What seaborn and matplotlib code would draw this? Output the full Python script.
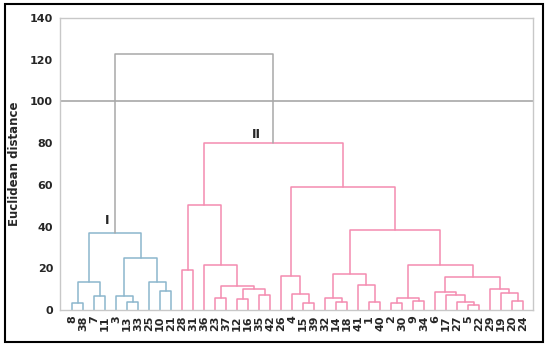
import numpy as np
import pandas as pd
import matplotlib
matplotlib.use('Agg')
import matplotlib.pyplot as plt
import seaborn as sns
from matplotlib.patches import Rectangle

# Leaves in the order they appear along the x axis
leaves = ['8', '38', '7', '11', '3', '13', '33', '25', '10', '21',
          '28', '31', '36', '23', '37', '12', '16', '35', '42',
          '26', '4', '15', '39', '32', '14', '18', '41', '1', '40',
          '2', '30', '9', '34', '6', '17', '27', '5', '22', '29',
          '19', '20', '24']

# Merge table: node nK is the K-th merge (left, right, height)
merge_left = ['8', '7', 'n0', '13', '3', '10', '25', 'n4', 'n2',
              '28', '23', '12', '35', 'n11', 'n10', '36', 'n9',
              '15', '4', '26', '14', '32', '1', '41', 'n21',
              '2', '9', 'n25', '5', '27', '17', '6', '20', '19', '29',
              'n31', 'n27', 'n24', 'n19', 'n16', 'n8']
merge_right = ['38', '11', 'n1', '33', 'n3', '21', 'n5', 'n6', 'n7',
               '31', '37', '16', '42', 'n12', 'n13', 'n14', 'n15',
               '39', 'n17', 'n18', '18', 'n20', '40', 'n22', 'n23',
               '30', '34', 'n26', '22', 'n28', 'n29', 'n30', '24', 'n32', 'n33',
               'n34', 'n35', 'n36', 'n37', 'n38', 'n39']
merge_height = [3.5, 6.5, 13.5, 4, 6.5, 9, 13.5, 25, 37,
                19, 6, 5.5, 7, 10, 11.5, 21.5, 50.5,
                3.5, 7.5, 16.5, 4, 6, 4, 12, 17.5,
                3.5, 4.5, 6, 2.5, 4, 7, 8.5, 4.5, 8, 10,
                16, 21.5, 38.5, 59, 80, 122.5]
merge_group = ['I'] * 9 + ['II'] * 31 + ['top']

# dendrogram coordinates
pos = {lab: (i, 0.0) for i, lab in enumerate(leaves)}
rows = []
for k, (a, b, h, g) in enumerate(zip(merge_left, merge_right, merge_height, merge_group)):
    xa, ya = pos[a]
    xb, yb = pos[b]
    for x, y in [(xa, ya), (xa, h), (xb, h), (xb, yb)]:
        rows.append({'link': k, 'x': x, 'y': y, 'group': g})
    pos['n%d' % k] = ((xa + xb) / 2, h)
segs = pd.DataFrame(rows)

sns.set_style('white')
plt.rcParams['font.family'] = ['DejaVu Sans']

fig = plt.figure(figsize=(5.5, 3.46), dpi=100)
ax = fig.add_axes([0.109, 0.104, 0.86, 0.844])

palette = {'I': '#8cb6cd', 'II': '#f48cb0', 'top': '#a8a8a8'}
sns.lineplot(data=segs, x='x', y='y', units='link', hue='group', estimator=None,
             sort=False, palette=palette, linewidth=1.1, legend=False, ax=ax)

ax.axhline(100, color='#a0a0a0', lw=1.1, zorder=0)

ax.text(3.2, 40, 'I', fontsize=9, fontweight='bold', ha='center', va='bottom')
ax.text(16.8, 81, 'II', fontsize=9, fontweight='bold', ha='center', va='bottom')

ax.set_xlim(-1.1, 41.9)
ax.set_ylim(0, 140)
ax.set_yticks(range(0, 141, 20))
ax.set_xticks(range(len(leaves)))
ax.set_xticklabels(leaves, rotation=90, fontsize=8, fontweight='bold')
ax.tick_params(axis='y', labelsize=8, length=3, color='#bbbbbb', pad=2)
ax.tick_params(axis='x', length=0, pad=4)
for lab in ax.get_yticklabels():
    lab.set_fontweight('bold')
ax.set_xlabel('')
ax.set_ylabel('Euclidean distance', fontsize=8.5, fontweight='bold', labelpad=6)
for s in ax.spines.values():
    s.set_color('#c8c8c8')
    s.set_linewidth(1)

fig.add_artist(Rectangle((0.009, 0.012), 0.979, 0.975, transform=fig.transFigure,
                         fill=False, edgecolor='black', linewidth=1.5))

fig.savefig('out.png', dpi=100)
